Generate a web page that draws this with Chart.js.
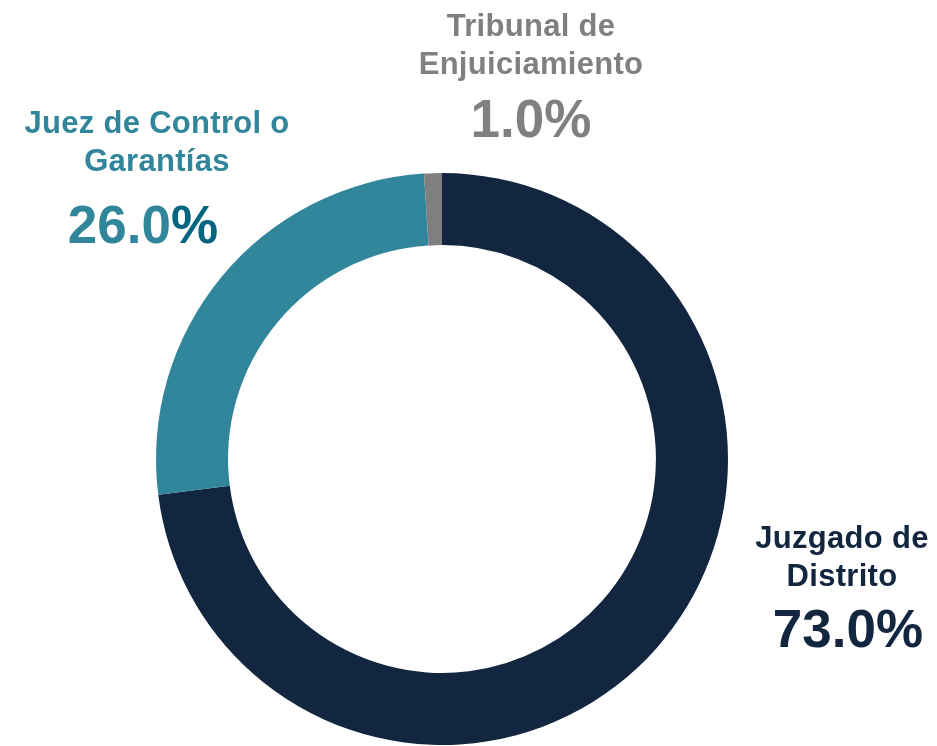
<!DOCTYPE html>
<html lang="es">
<head>
<meta charset="utf-8">
<script src="https://cdn.jsdelivr.net/npm/chart.js@4/dist/chart.umd.min.js"></script>
<style>
  html, body { margin: 0; padding: 0; background: #fff; }
  #wrap { width: 937px; height: 746px; position: relative; }
</style>
</head>
<body>
<div id="wrap"><canvas id="organoChart"></canvas></div>
<script>
// Distribución por órgano jurisdiccional (%)
const categories = ['Juzgado de Distrito', 'Juez de Control o Garantías', 'Tribunal de Enjuiciamiento'];
const shares = [73.0, 26.0, 1.0];
const labelLines = [['Juzgado de', 'Distrito'], ['Juez de Control o', 'Garantías'], ['Tribunal de', 'Enjuiciamiento']];
const sliceColors = ['#12263f', '#31869b', '#7f7f7f'];
const textColors = ['#12263f', '#31869b', '#808080'];

// anchor (center x, first baseline y) for each outside label
const labelAnchors = [
  { x: 842, y: 548, pctX: 848, pctY: 647 },
  { x: 157, y: 133, pctX: 143, pctY: 243 },
  { x: 531, y: 36, pctX: 531, pctY: 137 }
];

const FONT = '"Liberation Sans", Arial, sans-serif';

const outsideLabels = {
  id: 'outsideLabels',
  afterDraw(chart) {
    const { ctx } = chart;
    const data = chart.data.datasets[0].data;
    ctx.save();
    ctx.textAlign = 'center';
    ctx.textBaseline = 'alphabetic';
    data.forEach((v, i) => {
      const a = labelAnchors[i];
      ctx.fillStyle = textColors[i];
      ctx.font = 'bold 31px ' + FONT;
      ctx.letterSpacing = '0.3px';
      labelLines[i].forEach((line, k) => {
        ctx.fillText(line, a.x, a.y + k * 38);
      });
      ctx.letterSpacing = '0px';
      ctx.font = 'bold 53px ' + FONT;
      const txt = v.toFixed(1) + '%';
      if (i === 1) {
        // the percent sign on this one is a darker teal
        const num = v.toFixed(1);
        const w = ctx.measureText(txt).width;
        const left = a.pctX - w / 2;
        ctx.textAlign = 'left';
        ctx.fillText(num, left, a.pctY);
        ctx.fillStyle = '#00657f';
        ctx.fillText('%', left + ctx.measureText(num).width, a.pctY);
        ctx.textAlign = 'center';
      } else {
        ctx.fillText(txt, a.pctX, a.pctY);
      }
    });
    ctx.restore();
  }
};

new Chart(document.getElementById('organoChart'), {
  type: 'doughnut',
  data: {
    labels: categories,
    datasets: [{
      data: shares,
      backgroundColor: sliceColors,
      borderWidth: 0
    }]
  },
  options: {
    responsive: true,
    maintainAspectRatio: false,
    animation: false,
    cutout: '74.8%',
    rotation: 0,
    layout: { padding: { top: 173, bottom: 1, left: 156, right: 209 } },
    plugins: {
      legend: { display: false },
      tooltip: { enabled: false }
    }
  },
  plugins: [outsideLabels]
});
</script>
</body>
</html>
